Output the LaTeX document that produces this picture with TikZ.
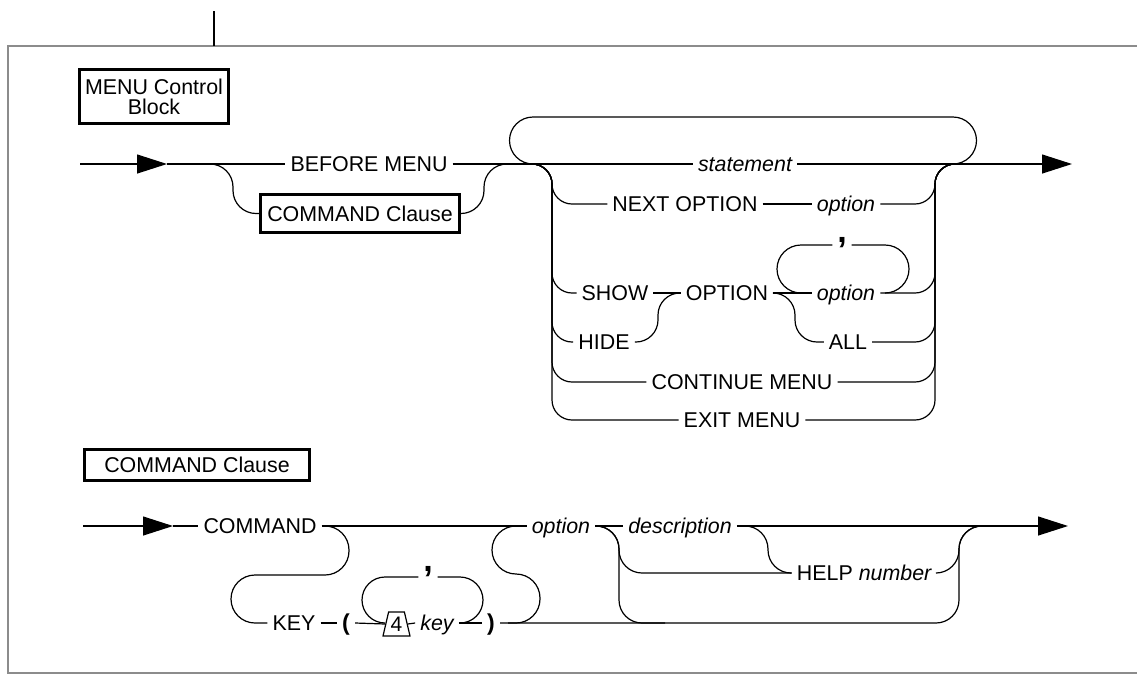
\documentclass[tikz,border=0pt]{standalone}
\usepackage{fontspec}
\setmainfont{Liberation Sans}
\usetikzlibrary{arrows.meta,shapes.geometric}
\tikzset{
  rail/.style={line width=0.6pt},
  kw/.style={font=\fontsize{10.7}{12}\selectfont, inner xsep=2.4pt, inner ysep=0pt, text height=7.6pt, text depth=0pt},
  var/.style={kw, font=\fontsize{10.7}{12}\selectfont\itshape},
  punc/.style={font=\fontsize{17}{17}\selectfont\bfseries, inner xsep=2.2pt, inner ysep=0pt, text height=0pt, text depth=2.4pt},
  paren/.style={kw, font=\fontsize{11.5}{12}\selectfont\bfseries},
  blk/.style={draw, line width=1.5pt, font=\fontsize{10.7}{10}\selectfont, align=center, inner sep=1pt},
  rep/.style={draw, trapezium, trapezium stretches, trapezium left angle=74, trapezium right angle=74, minimum width=13.5pt, minimum height=12pt, inner sep=0pt, line width=0.6pt, font=\fontsize{10.5}{12}\selectfont},
  go/.style={-{Triangle[length=15pt,width=9.5pt]}},
  frm/.style={draw=black!45, line width=1.3pt}
}
\begin{document}
\begin{tikzpicture}[x=0.5pt,y=-0.5pt]
\useasboundingbox (0,0) rectangle (1137,676);
\draw[frm] (1137,46) -- (8,46) -- (8,673) -- (1137,673);
\draw[rail] (214,11) -- (214,46);

\node[blk, minimum width=74.5pt, minimum height=27pt] (mcb) at (154,96.5) {MENU Control\\Block};
\node[kw] (bm) at (369,164) {BEFORE MENU};
\node[blk, minimum width=99.5pt, minimum height=19pt] (cc) at (360,213.5) {COMMAND Clause};
\node[var] (st) at (745,164) {statement};
\node[kw] (nx) at (685,204) {NEXT OPTION};
\node[var] (o1) at (846,204) {option};
\node[kw] (sh) at (615,293) {SHOW};
\node[kw] (hd) at (604,342) {HIDE};
\node[kw] (op) at (727,293) {OPTION};
\node[var] (o2) at (846,293) {option};
\node[punc] (c1) at (842,245) {,};
\node[kw] (al) at (848,342) {ALL};
\node[kw] (cm) at (742,382) {CONTINUE MENU};
\node[kw] (em) at (742,420) {EXIT MENU};

\coordinate (in1) at (80,164);
\coordinate (t1) at (167,164);
\coordinate (out1) at (1072,164);
\coordinate (jb) at (210,164);
\coordinate (bl) at (233,164);
\coordinate (br) at (484,164);
\coordinate (jc) at (507,164);
\coordinate (jl) at (532,164);
\coordinate (lv) at (552,164);
\coordinate (rv) at (935,164);
\coordinate (jr) at (955,164);
\coordinate (lpA) at (533,164);
\coordinate (lpB) at (953,164);
\coordinate (cl1) at (801,293);
\coordinate (cl2) at (885,293);
\coordinate (hx) at (658,293);
\coordinate (ax) at (795,293);

\draw[rail,go] (in1) -- (t1);
\draw[rail] (t1) -- (bm.west);
\draw[rail] (bm.east) -- (st.west);
\draw[rail,go] (st.east) -- (out1);
\draw[rail,rounded corners=11.5pt] (jb) -- (bl) |- (cc.west);
\draw[rail,rounded corners=11.5pt] (cc.east) -| (br) -- (jc);
\draw[rail,rounded corners=11.75pt] (lpA) -- ++(-23.5,0) -- ++(0,-47) -| ([xshift=11.75pt]lpB) -- (lpB);
\foreach \n in {nx,sh,hd,cm,em}
  \draw[rail,rounded corners=10pt] (jl) -- (lv) |- (\n.west);
\foreach \n in {o1,o2,al,cm,em}
  \draw[rail,rounded corners=10pt] (\n.east) -| (rv) -- (jr);
\draw[rail] (nx.east) -- (o1.west);
\draw[rail] (sh.east) -- (op.west);
\draw[rail,rounded corners=11pt] (hd.east) -| (hx) -- (op.west);
\draw[rail] (op.east) -- (o2.west);
\draw[rail,rounded corners=11pt] (op.east) -- (ax) |- (al.west);
\draw[rail,rounded corners=12pt] (cl1) -- ++(-24,0) |- (c1.west);
\draw[rail,rounded corners=12pt] (c1.east) -| ([xshift=12pt]cl2) -- (cl2);

\node[blk, minimum width=112.5pt, minimum height=15.5pt] (hdr) at (197,465) {COMMAND Clause};
\node[kw] (cmd) at (260,526) {COMMAND};
\node[kw] (key) at (294,623) {KEY};
\node[paren] (lp) at (346,623) {(};
\node[rep] (four) at (396.5,624) {4};
\node[var] (ky) at (437,623) {key};
\node[paren] (rp) at (491,623) {)};
\node[punc] (c2) at (428,577) {\raisebox{1.5pt}{,}};
\node[var] (opt) at (561,526) {option};
\node[var] (dsc) at (680,526) {description};
\node[kw] (hlp) at (864.5,573) {HELP \textit{number}};

\coordinate (in2) at (83,526);
\coordinate (t2) at (173,526);
\coordinate (out2) at (1068,526);
\coordinate (ks) at (325,526);
\coordinate (cl3) at (385,623);
\coordinate (cl4) at (460,623);
\coordinate (sj) at (508,623);
\coordinate (dj) at (596,526);
\coordinate (dv) at (619,526);
\coordinate (bj) at (665,623);
\coordinate (hj) at (745,526);
\coordinate (hv) at (768,526);
\coordinate (rv2) at (959,526);
\coordinate (ej) at (982,526);

\draw[rail,go] (in2) -- (t2);
\draw[rail] (t2) -- (cmd.west);
\draw[rail] (cmd.east) -- (opt.west);
\draw[rail,rounded corners=12pt] (ks) -- ++(24,0) -- ++(0,49) -- ++(-118,0) |- (key.west);
\draw[rail] (key.east) -- (lp.west);
\draw[rail] (lp.east) -- (four.west);
\draw[rail] (four.east) -- (ky.west);
\draw[rail] (ky.east) -- (rp.west);
\draw[rail,rounded corners=11.5pt] (cl3) -- ++(-23,0) |- (c2.west);
\draw[rail,rounded corners=11.5pt] (c2.east) -| ([xshift=11.5pt]cl4) -- (cl4);
\draw[rail,rounded corners=11.5pt] (rp.east) -| (rv2) -- (ej);
\draw[rail,rounded corners=12pt] (sj) -- ++(32,0) -- ++(0,-49) -- ++(-48,0) |- (opt.west);
\draw[rail] (opt.east) -- (dsc.west);
\draw[rail,go] (dsc.east) -- (out2);
\draw[rail,rounded corners=11.5pt] (dj) -- (dv) |- (hlp.west);
\draw[rail,rounded corners=11.5pt] (dj) -- (dv) |- (bj);
\draw[rail,rounded corners=11.5pt] (hj) -- (hv) |- (hlp.west);
\draw[rail,rounded corners=11.5pt] (hlp.east) -| (rv2) -- (ej);
\end{tikzpicture}
\end{document}
